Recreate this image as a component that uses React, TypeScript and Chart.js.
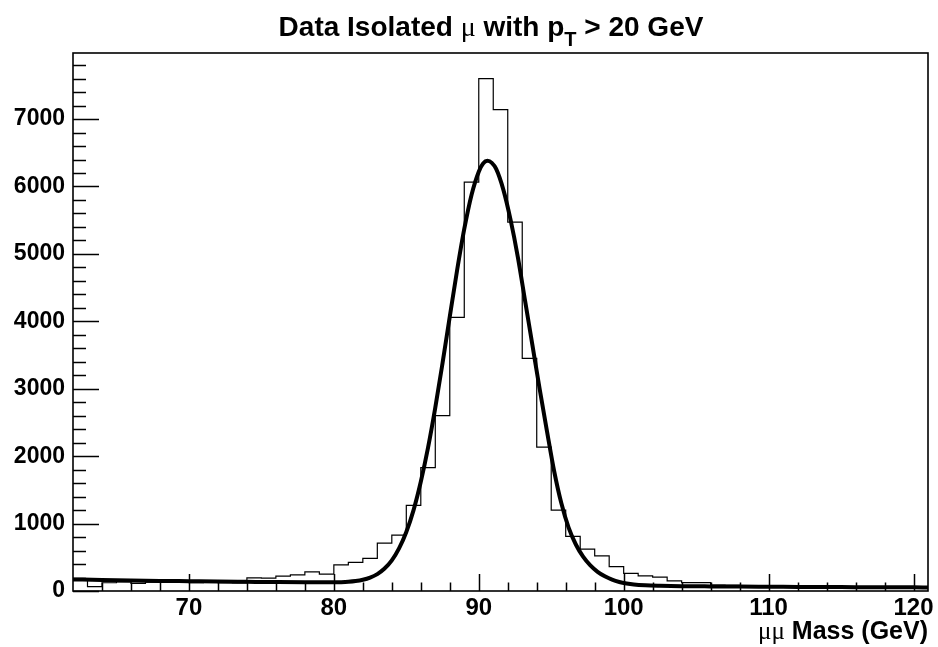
import React, { useEffect, useRef } from "react";
import { Chart, registerables } from "chart.js";

Chart.register(...registerables);

// ---- data ----
const binLowEdges = [
  62, 63, 64, 65, 66, 67, 68, 69, 70, 71, 72, 73, 74, 75, 76, 77, 78, 79, 80, 81,
  82, 83, 84, 85, 86, 87, 88, 89, 90, 91, 92, 93, 94, 95, 96, 97, 98, 99, 100, 101,
  102, 103, 104, 105, 106, 107, 108, 109, 110, 111, 112, 113, 114, 115, 116, 117, 118, 119, 120,
];
const binCounts = [
  160, 65, 122, 135, 114, 132, 126, 130, 124, 128, 124, 120, 196, 190, 222, 240, 285, 250, 387, 425,
  485, 710, 830, 1270, 1830, 2600, 4060, 6065, 7600, 7140, 5470, 3450, 2135, 1200, 810, 620, 520, 362, 260, 225,
  205, 150, 125, 124, 88, 84, 80, 74, 72, 70, 66, 62, 60, 58, 55, 52, 55, 50, 46,
];
const histUpperEdge = 121;

const fitMass = [
  62, 64, 66, 68, 70, 72, 74, 76, 78, 80, 80.5, 81, 81.5, 82, 82.5, 83, 83.5, 84, 84.5, 85,
  85.5, 86, 86.5, 87, 87.5, 88, 88.5, 89, 89.5, 90, 90.3, 90.6, 90.9, 91.2, 91.7, 92.2, 92.7, 93.2, 93.7, 94.2,
  94.7, 95.2, 95.7, 96.2, 96.7, 97.2, 97.7, 98.2, 98.7, 99.2, 99.7, 100.2, 100.7, 101.5, 102.5, 104, 106, 108, 110, 112,
  114, 116, 118, 120, 121,
];
const fitValues = [
  172, 163, 156, 150, 145, 140, 136, 132, 129, 128, 131, 137, 148, 167, 199, 251, 333, 455, 632, 875,
  1200, 1620, 2127, 2720, 3380, 4070, 4750, 5370, 5875, 6220, 6340, 6380, 6350, 6260, 5950, 5500, 4950, 4300, 3650, 3000,
  2380, 1780, 1300, 940, 690, 510, 380, 285, 218, 168, 134, 112, 97, 85, 78, 72, 68, 65, 63, 61,
  59, 57, 55, 54, 53,
];

const xTickLabels = [70, 80, 90, 100, 110, 120];
const yTickLabels = [0, 1000, 2000, 3000, 4000, 5000, 6000, 7000];
const xMin = 62;
const xMax = 121;
const yMin = 0;
const yMax = 7980;
const xMinorStep = 2;
const yMinorStep = 200;

const titleRuns = [
  { text: "Data Isolated ", kind: "bold" },
  { text: "μ", kind: "greek" },
  { text: " with p", kind: "bold" },
  { text: "T", kind: "sub" },
  { text: " > 20 GeV", kind: "bold" },
];
const xTitleRuns = [
  { text: "μμ", kind: "greek" },
  { text: " Mass (GeV)", kind: "bold" },
];

// ---- styling ----
const SANS = '"Liberation Sans", Arial, Helvetica, sans-serif';
const SERIF = '"Liberation Serif", "DejaVu Serif", serif';

function fontFor(kind: string, size: number) {
  if (kind === "greek") return `${size}px ${SERIF}`;
  if (kind === "sub") return `bold ${Math.round(size * 0.7)}px ${SANS}`;
  return `bold ${size}px ${SANS}`;
}

function drawRuns(
  ctx: CanvasRenderingContext2D,
  runs: { text: string; kind: string }[],
  x: number,
  y: number,
  size: number,
  align: "center" | "right",
  subDy: number
) {
  ctx.save();
  ctx.fillStyle = "#000";
  ctx.textBaseline = "alphabetic";
  ctx.textAlign = "left";
  let total = 0;
  for (const r of runs) {
    ctx.font = fontFor(r.kind, size);
    total += ctx.measureText(r.text).width;
  }
  let cx = align === "center" ? x - total / 2 : x - total;
  for (const r of runs) {
    ctx.font = fontFor(r.kind, size);
    ctx.fillText(r.text, cx, y + (r.kind === "sub" ? subDy : 0));
    cx += ctx.measureText(r.text).width;
  }
  ctx.restore();
}

const rootFramePlugin = {
  id: "rootFrame",
  afterDraw(chart: any) {
    const { ctx, chartArea: a, scales } = chart;
    const xs = scales.x;
    const ys = scales.y;
    ctx.save();
    ctx.strokeStyle = "#000";
    ctx.lineWidth = 1.5;
    ctx.beginPath();
    // y ticks (inside, to the right)
    for (let v = yMin; v <= yMax; v += yMinorStep) {
      const py = Math.round(ys.getPixelForValue(v)) + 0.5;
      const len = v % 1000 === 0 ? 26 : 13;
      ctx.moveTo(a.left, py);
      ctx.lineTo(a.left + len, py);
    }
    // x ticks (inside, upwards)
    for (let v = 64; v <= xMax; v += xMinorStep) {
      const px = Math.round(xs.getPixelForValue(v)) + 0.5;
      const len = v % 10 === 0 ? 17 : 8.5;
      ctx.moveTo(px, a.bottom);
      ctx.lineTo(px, a.bottom - len);
    }
    ctx.stroke();
    // frame
    ctx.lineWidth = 1.6;
    ctx.strokeRect(a.left, a.top, a.right - a.left, a.bottom - a.top);
    ctx.restore();

    drawRuns(ctx, titleRuns, 491, 36, 28, "center", 10);
    drawRuns(ctx, xTitleRuns, a.right, 639, 25, "right", 0);
  },
};

export default function App() {
  const canvasRef = useRef<HTMLCanvasElement | null>(null);

  useEffect(() => {
    const canvas = canvasRef.current;
    if (!canvas) return;
    const histData = binLowEdges.map((x, i) => ({ x, y: binCounts[i] }));
    histData.push({ x: histUpperEdge, y: binCounts[binCounts.length - 1] });
    const fitData = fitMass.map((x, i) => ({ x, y: fitValues[i] }));

    const chart = new Chart(canvas, {
      type: "line",
      data: {
        datasets: [
          {
            label: "fit",
            data: fitData,
            borderColor: "#000",
            borderWidth: 4,
            pointRadius: 0,
            cubicInterpolationMode: "monotone",
            fill: false,
            order: 0,
          },
          {
            label: "data",
            data: histData,
            borderColor: "#000",
            borderWidth: 1.2,
            pointRadius: 0,
            stepped: true,
            fill: false,
            order: 1,
          },
        ],
      },
      options: {
        animation: false,
        responsive: false,
        devicePixelRatio: 1,
        layout: { padding: { top: 53, right: 10, left: 0, bottom: 0 } },
        plugins: {
          legend: { display: false },
          tooltip: { enabled: false },
          title: { display: false },
        },
        scales: {
          x: {
            type: "linear",
            min: xMin,
            max: xMax,
            grid: { display: false, drawTicks: false },
            border: { display: false },
            afterBuildTicks: (scale: any) => {
              scale.ticks = xTickLabels.map((v) => ({ value: v }));
            },
            afterFit: (scale: any) => {
              scale.height = 56;
            },
            ticks: {
              autoSkip: false,
              maxRotation: 0,
              padding: 3,
              color: "#000",
              font: { family: SANS, size: 24, weight: "bold" },
              callback: (v: any) => String(v),
            },
          },
          y: {
            type: "linear",
            min: yMin,
            max: yMax,
            grid: { display: false, drawTicks: false },
            border: { display: false },
            afterBuildTicks: (scale: any) => {
              scale.ticks = yTickLabels.map((v) => ({ value: v }));
            },
            afterFit: (scale: any) => {
              scale.width = 73;
            },
            ticks: {
              autoSkip: false,
              padding: 8,
              color: "#000",
              font: { family: SANS, size: 23, weight: "bold" },
              callback: (v: any) => String(v),
            },
          },
        },
      },
      plugins: [rootFramePlugin],
    } as any);

    return () => chart.destroy();
  }, []);

  return (
    <div style={{ position: "fixed", left: 0, top: 0, width: 938, height: 647, background: "#fff" }}>
      <canvas ref={canvasRef} width={938} height={647} style={{ display: "block" }} />
    </div>
  );
}
